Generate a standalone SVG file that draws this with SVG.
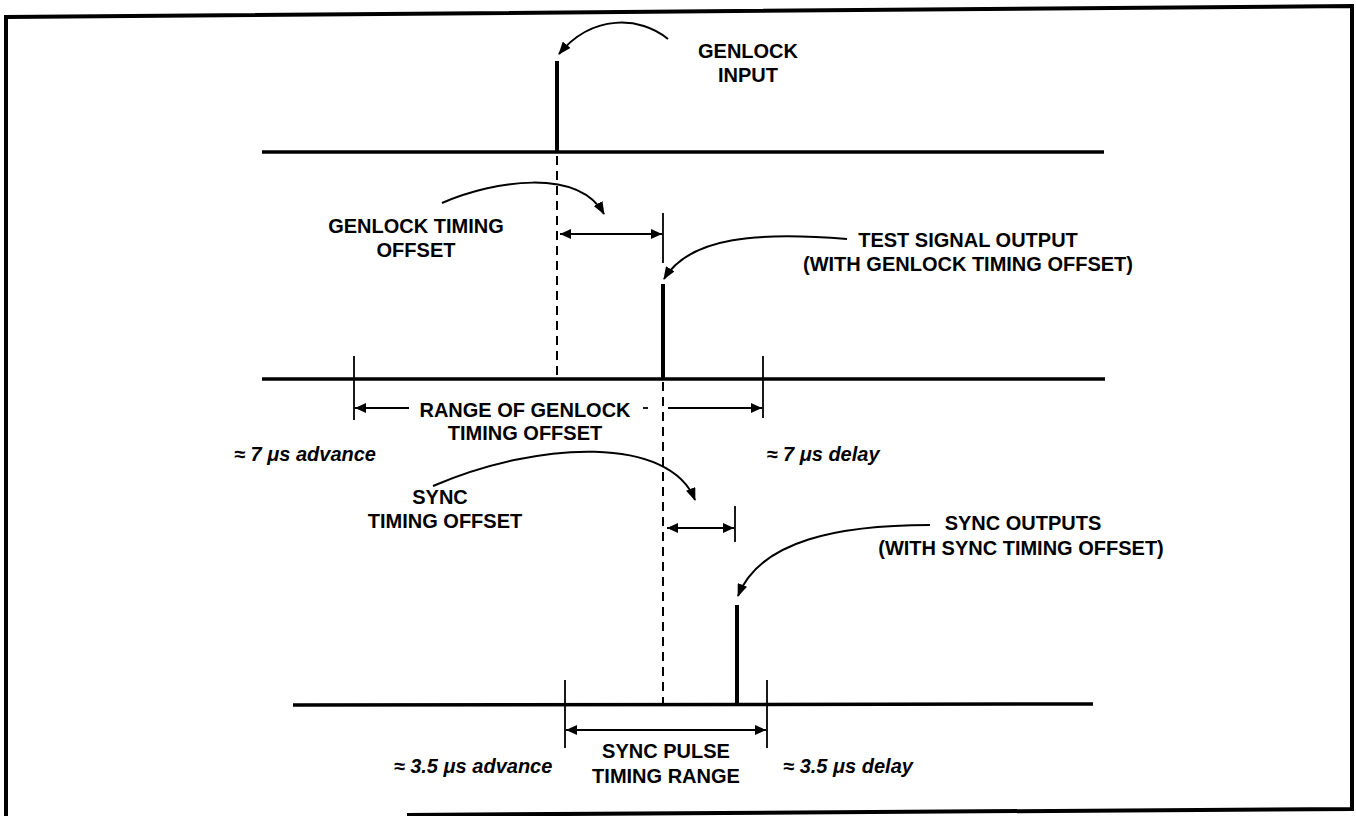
<svg xmlns="http://www.w3.org/2000/svg" width="1356" height="816" viewBox="0 0 1356 816">
<style>
.frame{stroke:#000;stroke-width:4;fill:none}
.base{stroke:#000;stroke-width:3.5;fill:none}
.pulse{stroke:#000;stroke-width:4;fill:none}
.tick{stroke:#000;stroke-width:1.8;fill:none}
.dash{stroke:#000;stroke-width:2;stroke-dasharray:9 6;fill:none}
.dim{stroke:#000;stroke-width:1.8;fill:none}
.cur{stroke:#000;stroke-width:2;fill:none}
.t{font-family:"Liberation Sans",Arial,sans-serif;font-weight:bold;font-size:20px;text-anchor:middle;fill:#000}
.i{font-style:italic;font-size:20px}
</style>
<defs>
<marker id="ah" markerWidth="13" markerHeight="10" refX="12" refY="5" orient="auto" markerUnits="userSpaceOnUse"><path d="M0,0 L13,5 L0,10 Z" fill="#000"/></marker>
<marker id="ad" markerWidth="11" markerHeight="10" refX="11" refY="5" orient="auto-start-reverse" markerUnits="userSpaceOnUse"><path d="M0,0 L11,5 L0,10 Z" fill="#000"/></marker>
</defs>
<path class="frame" d="M6,816 L6,17 L1352,6 L1352,809 L407,815"/>
<g id="baselines">
<line class="base" x1="262" y1="152" x2="1104" y2="152"/>
<line class="base" x1="262" y1="379" x2="1105" y2="379"/>
<line class="base" x1="293" y1="705" x2="1093" y2="704"/>
</g>
<g id="genlock-input">
<line class="pulse" x1="557" y1="61" x2="557" y2="152"/>
<text class="t" x="748" y="58">GENLOCK</text>
<text class="t" x="748" y="82">INPUT</text>
</g>
<g id="test-signal-output">
<line class="pulse" x1="663" y1="284" x2="663" y2="379"/>
<text class="t" x="968" y="247">TEST SIGNAL OUTPUT</text>
<text class="t" x="968" y="271">(WITH GENLOCK TIMING OFFSET)</text>
</g>
<g id="genlock-timing-offset">
<text class="t" x="416" y="233">GENLOCK TIMING</text>
<text class="t" x="416" y="257">OFFSET</text>
</g>
<g id="range-genlock">
<text class="t" x="525" y="417">RANGE OF GENLOCK</text>
<text class="t" x="525" y="440">TIMING OFFSET</text>
<text class="t i" x="305" y="461">≈ 7 μs advance</text>
<text class="t i" x="823" y="461">≈ 7 μs delay</text>
</g>
<g id="sync-timing-offset">
<text class="t" x="440" y="504">SYNC</text>
<text class="t" x="445" y="528">TIMING OFFSET</text>
</g>
<g id="sync-outputs">
<line class="pulse" x1="737" y1="605" x2="737" y2="704"/>
<text class="t" x="1023" y="530">SYNC OUTPUTS</text>
<text class="t" x="1021" y="555">(WITH SYNC TIMING OFFSET)</text>
</g>
<g id="sync-pulse-range">
<text class="t" x="666" y="758">SYNC PULSE</text>
<text class="t" x="666" y="783">TIMING RANGE</text>
<text class="t i" x="473" y="773">≈ 3.5 μs advance</text>
<text class="t i" x="848" y="773">≈ 3.5 μs delay</text>
</g>
<g id="connectors">
<line class="dash" x1="557" y1="156" x2="557" y2="378"/>
<line class="dash" x1="663" y1="382" x2="663" y2="704"/>
<line class="tick" x1="663" y1="213" x2="663" y2="263"/>
<line class="tick" x1="354" y1="356" x2="354" y2="420"/>
<line class="tick" x1="763" y1="356" x2="763" y2="418"/>
<line class="tick" x1="735" y1="506" x2="735" y2="542"/>
<line class="tick" x1="565" y1="680" x2="565" y2="748"/>
<line class="tick" x1="767" y1="680" x2="767" y2="748"/>
<line class="dim" x1="560" y1="234" x2="662" y2="234" marker-start="url(#ad)" marker-end="url(#ad)"/>
<line class="dim" x1="409" y1="408" x2="355" y2="408" marker-end="url(#ad)"/>
<line class="dim" x1="643" y1="408" x2="648" y2="408"/>
<line class="dim" x1="668" y1="408" x2="762" y2="408" marker-end="url(#ad)"/>
<line class="dim" x1="667" y1="528" x2="734" y2="528" marker-start="url(#ad)" marker-end="url(#ad)"/>
<line class="dim" x1="566" y1="730" x2="766" y2="730" marker-start="url(#ad)" marker-end="url(#ad)"/>
<path class="cur" d="M668,39 C640,16 592,14 559,54" marker-end="url(#ah)"/>
<path class="cur" d="M442,203 C495,180 578,168 604,214" marker-end="url(#ah)"/>
<path class="cur" d="M847,239 C760,232 690,236 664,279" marker-end="url(#ah)"/>
<path class="cur" d="M433,486 C540,440 670,436 695,500" marker-end="url(#ah)"/>
<path class="cur" d="M930,525 C840,525 760,540 738,596" marker-end="url(#ah)"/>
</g>
</svg>
